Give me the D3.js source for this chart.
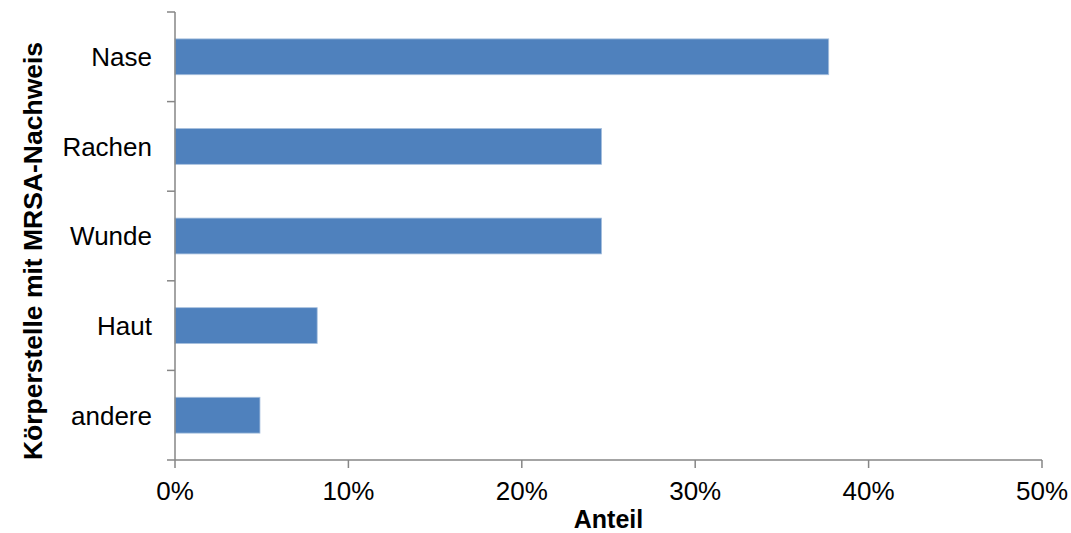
<!DOCTYPE html>
<html>
<head>
<meta charset="utf-8">
<script src="https://cdn.jsdelivr.net/npm/d3@7"></script>
<style>
  body { margin: 0; background: #fff; }
  svg { display: block; font-family: "Liberation Sans", Arial, sans-serif; }
</style>
</head>
<body>
<svg id="chart" width="1071" height="533"></svg>
<script>
// categories from top to bottom
const categories = ["Nase", "Rachen", "Wunde", "Haut", "andere"];
// share in percent
const shares = [37.7, 24.6, 24.6, 8.2, 4.9];
const xTicks = [0, 10, 20, 30, 40, 50];

const width = 1071, height = 533;
const margin = { left: 175, right: 29, top: 12, bottom: 73 };
const axisColor = "#868686";

const svg = d3.select("#chart");

const x = d3.scaleLinear()
    .domain([0, 50])
    .range([margin.left, width - margin.right]);

const y = d3.scaleBand()
    .domain(categories)
    .range([margin.top, height - margin.bottom])
    .paddingInner(0.6)
    .paddingOuter(0.3);

// bars
svg.append("g")
    .selectAll("rect")
    .data(categories)
    .join("rect")
    .attr("x", x(0))
    .attr("y", d => y(d))
    .attr("width", (d, i) => x(shares[i]) - x(0))
    .attr("height", y.bandwidth())
    .attr("fill", "#4F81BD")
    .attr("stroke", "#A7C0DE")
    .attr("stroke-width", 0.8);

// y axis: line and ticks at band boundaries
const yAxis = svg.append("g").attr("stroke", axisColor).attr("stroke-width", 1.5);
const step = y.step();
yAxis.append("line")
    .attr("x1", x(0)).attr("x2", x(0))
    .attr("y1", margin.top).attr("y2", height - margin.bottom);
d3.range(categories.length).forEach(i => {
    yAxis.append("line")
        .attr("x1", x(0) - 8).attr("x2", x(0))
        .attr("y1", margin.top + i * step).attr("y2", margin.top + i * step);
});

// x axis
const xAxis = svg.append("g").attr("stroke", axisColor).attr("stroke-width", 1.5);
xAxis.append("line")
    .attr("x1", x(0) - 8).attr("x2", x(50))
    .attr("y1", height - margin.bottom).attr("y2", height - margin.bottom);
xTicks.forEach(t => {
    xAxis.append("line")
        .attr("x1", x(t)).attr("x2", x(t))
        .attr("y1", height - margin.bottom).attr("y2", height - margin.bottom + 8);
});

// tick labels
svg.append("g")
    .selectAll("text")
    .data(xTicks)
    .join("text")
    .attr("x", d => x(d))
    .attr("y", height - margin.bottom + 40)
    .attr("text-anchor", "middle")
    .attr("font-size", 26)
    .attr("fill", "#000")
    .text(d => d + "%");

svg.append("g")
    .selectAll("text")
    .data(categories)
    .join("text")
    .attr("x", x(0) - 23)
    .attr("y", d => y(d) + y.bandwidth() / 2)
    .attr("dy", "0.36em")
    .attr("text-anchor", "end")
    .attr("font-size", 26)
    .attr("fill", "#000")
    .text(d => d);

// axis titles
svg.append("text")
    .attr("x", (x(0) + x(50)) / 2)
    .attr("y", 528)
    .attr("text-anchor", "middle")
    .attr("font-size", 25)
    .attr("font-weight", "bold")
    .text("Anteil");

svg.append("text")
    .attr("transform", `translate(42,${(margin.top + height - margin.bottom) / 2 + 15}) rotate(-90)`)
    .attr("text-anchor", "middle")
    .attr("font-size", 26.5)
    .attr("font-weight", "bold")
    .text("Körperstelle mit MRSA-Nachweis");
</script>
</body>
</html>
